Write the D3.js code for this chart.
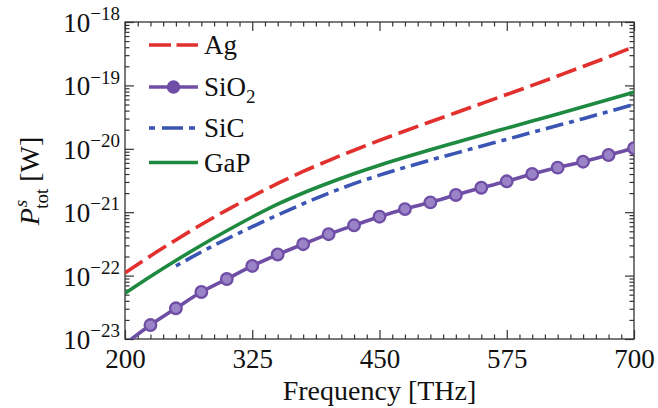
<!DOCTYPE html>
<html><head><meta charset="utf-8">
<script src="https://cdn.jsdelivr.net/npm/d3@7"></script>
<style>
html,body{margin:0;padding:0;background:#fff;}
svg{display:block;}
</style></head>
<body><svg id="c" width="658" height="408" font-family="Liberation Serif"></svg>
<script>
const freqs = [200,225,250,275,300,325,350,375,400,425,450,475,500,525,550,575,600,625,650,675,700];
const agValues = [1.10e-22,2.04e-22,3.65e-22,6.40e-22,1.08e-21,1.77e-21,2.84e-21,4.39e-21,6.53e-21,9.5e-21,1.36e-20,1.91e-20,2.67e-20,3.71e-20,5.16e-20,7.18e-20,1.00e-19,1.41e-19,1.99e-19,2.82e-19,4.09e-19];
const sio2Values = [8.34e-24,1.66e-23,3.05e-23,5.51e-23,8.83e-23,1.42e-22,2.15e-22,3.13e-22,4.50e-22,6.21e-22,8.49e-22,1.12e-21,1.43e-21,1.87e-21,2.43e-21,3.07e-21,4.01e-21,5.04e-21,6.26e-21,7.98e-21,1.02e-20];
const sicFreqs = [250,275,300,325,350,375,400,425,450,475,500,525,550,575,600,625,650,675,700];
const sicValues = [1.42e-22,2.36e-22,3.78e-22,5.90e-22,9.04e-22,1.36e-21,1.99e-21,2.82e-21,3.84e-21,5.09e-21,6.64e-21,8.55e-21,1.10e-20,1.41e-20,1.82e-20,2.33e-20,2.99e-20,3.86e-20,5.00e-20];
const gapValues = [5.26e-23,9.68e-23,1.73e-22,3.01e-22,5.09e-22,8.40e-22,1.34e-21,2.01e-21,2.89e-21,4.04e-21,5.50e-21,7.34e-21,9.68e-21,1.26e-20,1.64e-20,2.12e-20,2.74e-20,3.55e-20,4.59e-20,5.97e-20,7.78e-20];
const sio2MarkerFreqs = [225,250,275,300,325,350,375,400,425,450,475,500,525,550,575,600,625,650,675,700];
const xTicks = [200,325,450,575,700];
const yExponents = [-23,-22,-21,-20,-19,-18];
const legendLabels = ["Ag","SiO","SiC","GaP"];

const FONT = "Liberation Serif";
const L = 125, R = 634, T = 22, B = 339;
const svg = d3.select("#c");
const x = d3.scaleLinear().domain([200,700]).range([L,R]);
const y = d3.scaleLog().domain([1e-23,1e-18]).range([B,T]);

const xMinor = d3.range(200,700.01,12.5).filter(v=>!xTicks.includes(v));
const yMajor = yExponents.map(e=>Math.pow(10,e));
const yMinor = [];
yExponents.slice(0,-1).forEach(e=>{for(let k=2;k<=9;k++) yMinor.push(k*Math.pow(10,e));});

const axisColor = "#333";
function styleAxis(g){
  g.attr("font-family",FONT);
  g.select(".domain").remove();
  g.selectAll("line").attr("stroke",axisColor).attr("stroke-width",1.2);
}

// bottom
svg.append("g").attr("transform",`translate(0,${B})`)
  .call(d3.axisBottom(x).tickValues(xMinor).tickSize(-4.5).tickFormat("")).call(styleAxis);
const gb = svg.append("g").attr("transform",`translate(0,${B})`)
  .call(d3.axisBottom(x).tickValues(xTicks).tickSize(-9).tickPadding(10).tickFormat(d3.format("d"))).call(styleAxis);
gb.selectAll("text").attr("font-size","27px").attr("fill","#111").attr("font-family",FONT);
// top
svg.append("g").attr("transform",`translate(0,${T})`)
  .call(d3.axisTop(x).tickValues(xMinor).tickSize(-4.5).tickFormat("")).call(styleAxis);
svg.append("g").attr("transform",`translate(0,${T})`)
  .call(d3.axisTop(x).tickValues(xTicks).tickSize(-9).tickFormat("")).call(styleAxis);
// left
svg.append("g").attr("transform",`translate(${L},0)`)
  .call(d3.axisLeft(y).tickValues(yMinor).tickSize(-4.5).tickFormat("")).call(styleAxis);
const gl = svg.append("g").attr("transform",`translate(${L},0)`)
  .call(d3.axisLeft(y).tickValues(yMajor).tickSize(-9).tickPadding(5).tickFormat("")).call(styleAxis);
gl.selectAll(".tick text").each(function(d){
  const t = d3.select(this);
  t.attr("font-size","27px").attr("fill","#111").attr("font-family",FONT).attr("dy","0.35em");
  t.append("tspan").text("10");
  t.append("tspan").attr("dy","-0.62em").attr("font-size","19px").text("\u2212"+(-Math.round(Math.log10(d))));
});
// right
svg.append("g").attr("transform",`translate(${R},0)`)
  .call(d3.axisRight(y).tickValues(yMinor).tickSize(-4.5).tickFormat("")).call(styleAxis);
svg.append("g").attr("transform",`translate(${R},0)`)
  .call(d3.axisRight(y).tickValues(yMajor).tickSize(-9).tickFormat("")).call(styleAxis);

// frame
svg.append("rect").attr("x",L).attr("y",T).attr("width",R-L).attr("height",B-T)
  .attr("fill","none").attr("stroke",axisColor).attr("stroke-width",1.3);

// clip
svg.append("clipPath").attr("id","clip").append("rect").attr("x",L).attr("y",T).attr("width",R-L).attr("height",B-T);
const plot = svg.append("g").attr("clip-path","url(#clip)");

const line = d3.line().x(d=>x(d[0])).y(d=>y(d[1])).curve(d3.curveMonotoneX);
const colors = {ag:"#e1302d", sio2:"#6f4ea6", sic:"#3a55b3", gap:"#1d8a40"};
const lw = 3.6;

plot.append("path").datum(freqs.map((f,i)=>[f,gapValues[i]])).attr("d",line)
  .attr("fill","none").attr("stroke",colors.gap).attr("stroke-width",lw);
plot.append("path").datum(sicFreqs.map((f,i)=>[f,sicValues[i]])).attr("d",line)
  .attr("fill","none").attr("stroke",colors.sic).attr("stroke-width",lw).attr("stroke-dasharray","5,6,18,6");
plot.append("path").datum(freqs.map((f,i)=>[f,agValues[i]])).attr("d",line)
  .attr("fill","none").attr("stroke",colors.ag).attr("stroke-width",lw).attr("stroke-dasharray","21,7");
plot.append("path").datum(freqs.map((f,i)=>[f,sio2Values[i]])).attr("d",line)
  .attr("fill","none").attr("stroke",colors.sio2).attr("stroke-width",lw);
plot.selectAll("circle.m").data(sio2MarkerFreqs).enter().append("circle").attr("class","m")
  .attr("cx",f=>x(f)).attr("cy",f=>y(sio2Values[freqs.indexOf(f)])).attr("r",5.8)
  .attr("fill","#9a83c6").attr("stroke",colors.sio2).attr("stroke-width",2.3);

// legend
const lx0 = 149, lx1 = 198, tx = 204;
const legY = [45,87,128,162.5];
const leg = svg.append("g").attr("font-family",FONT);
leg.append("line").attr("x1",lx0).attr("x2",lx1).attr("y1",legY[0]).attr("y2",legY[0]).attr("stroke",colors.ag).attr("stroke-width",lw).attr("stroke-dasharray","22,5.5");
leg.append("line").attr("x1",lx0).attr("x2",lx1).attr("y1",legY[1]).attr("y2",legY[1]).attr("stroke",colors.sio2).attr("stroke-width",lw);
leg.append("circle").attr("cx",(lx0+lx1)/2).attr("cy",legY[1]).attr("r",6).attr("fill",colors.sio2).attr("stroke",colors.sio2).attr("stroke-width",1.5);
leg.append("line").attr("x1",lx0).attr("x2",lx1).attr("y1",legY[2]).attr("y2",legY[2]).attr("stroke",colors.sic).attr("stroke-width",lw).attr("stroke-dasharray","6,7,21,6,6,7");
leg.append("line").attr("x1",lx0).attr("x2",lx1).attr("y1",legY[3]).attr("y2",legY[3]).attr("stroke",colors.gap).attr("stroke-width",lw);
legendLabels.forEach((lab,i)=>{
  const t = leg.append("text").attr("x",tx).attr("y",legY[i]).attr("dy","0.35em").attr("font-size","27px").attr("fill","#111").attr("font-family",FONT).text(lab);
  if(lab==="SiO") t.append("tspan").attr("dy","0.35em").attr("font-size","19px").text("2");
});

// axis labels
svg.append("text").attr("x",(L+R)/2).attr("y",400).attr("text-anchor","middle").attr("font-size","28px").attr("fill","#111").attr("font-family",FONT).text("Frequency [THz]");
const yl = svg.append("text").attr("transform","translate(39,181) rotate(-90)").attr("text-anchor","middle").attr("font-size","28px").attr("fill","#111").attr("font-family",FONT);
yl.append("tspan").attr("font-style","italic").text("P");
yl.append("tspan").attr("font-style","italic").attr("font-size","19px").attr("dy","-12").attr("dx","1").text("s");
yl.append("tspan").attr("font-size","19px").attr("dy","21").attr("dx","-9").text("tot");
yl.append("tspan").attr("dy","-9").text(" [W]");
</script></body></html>
